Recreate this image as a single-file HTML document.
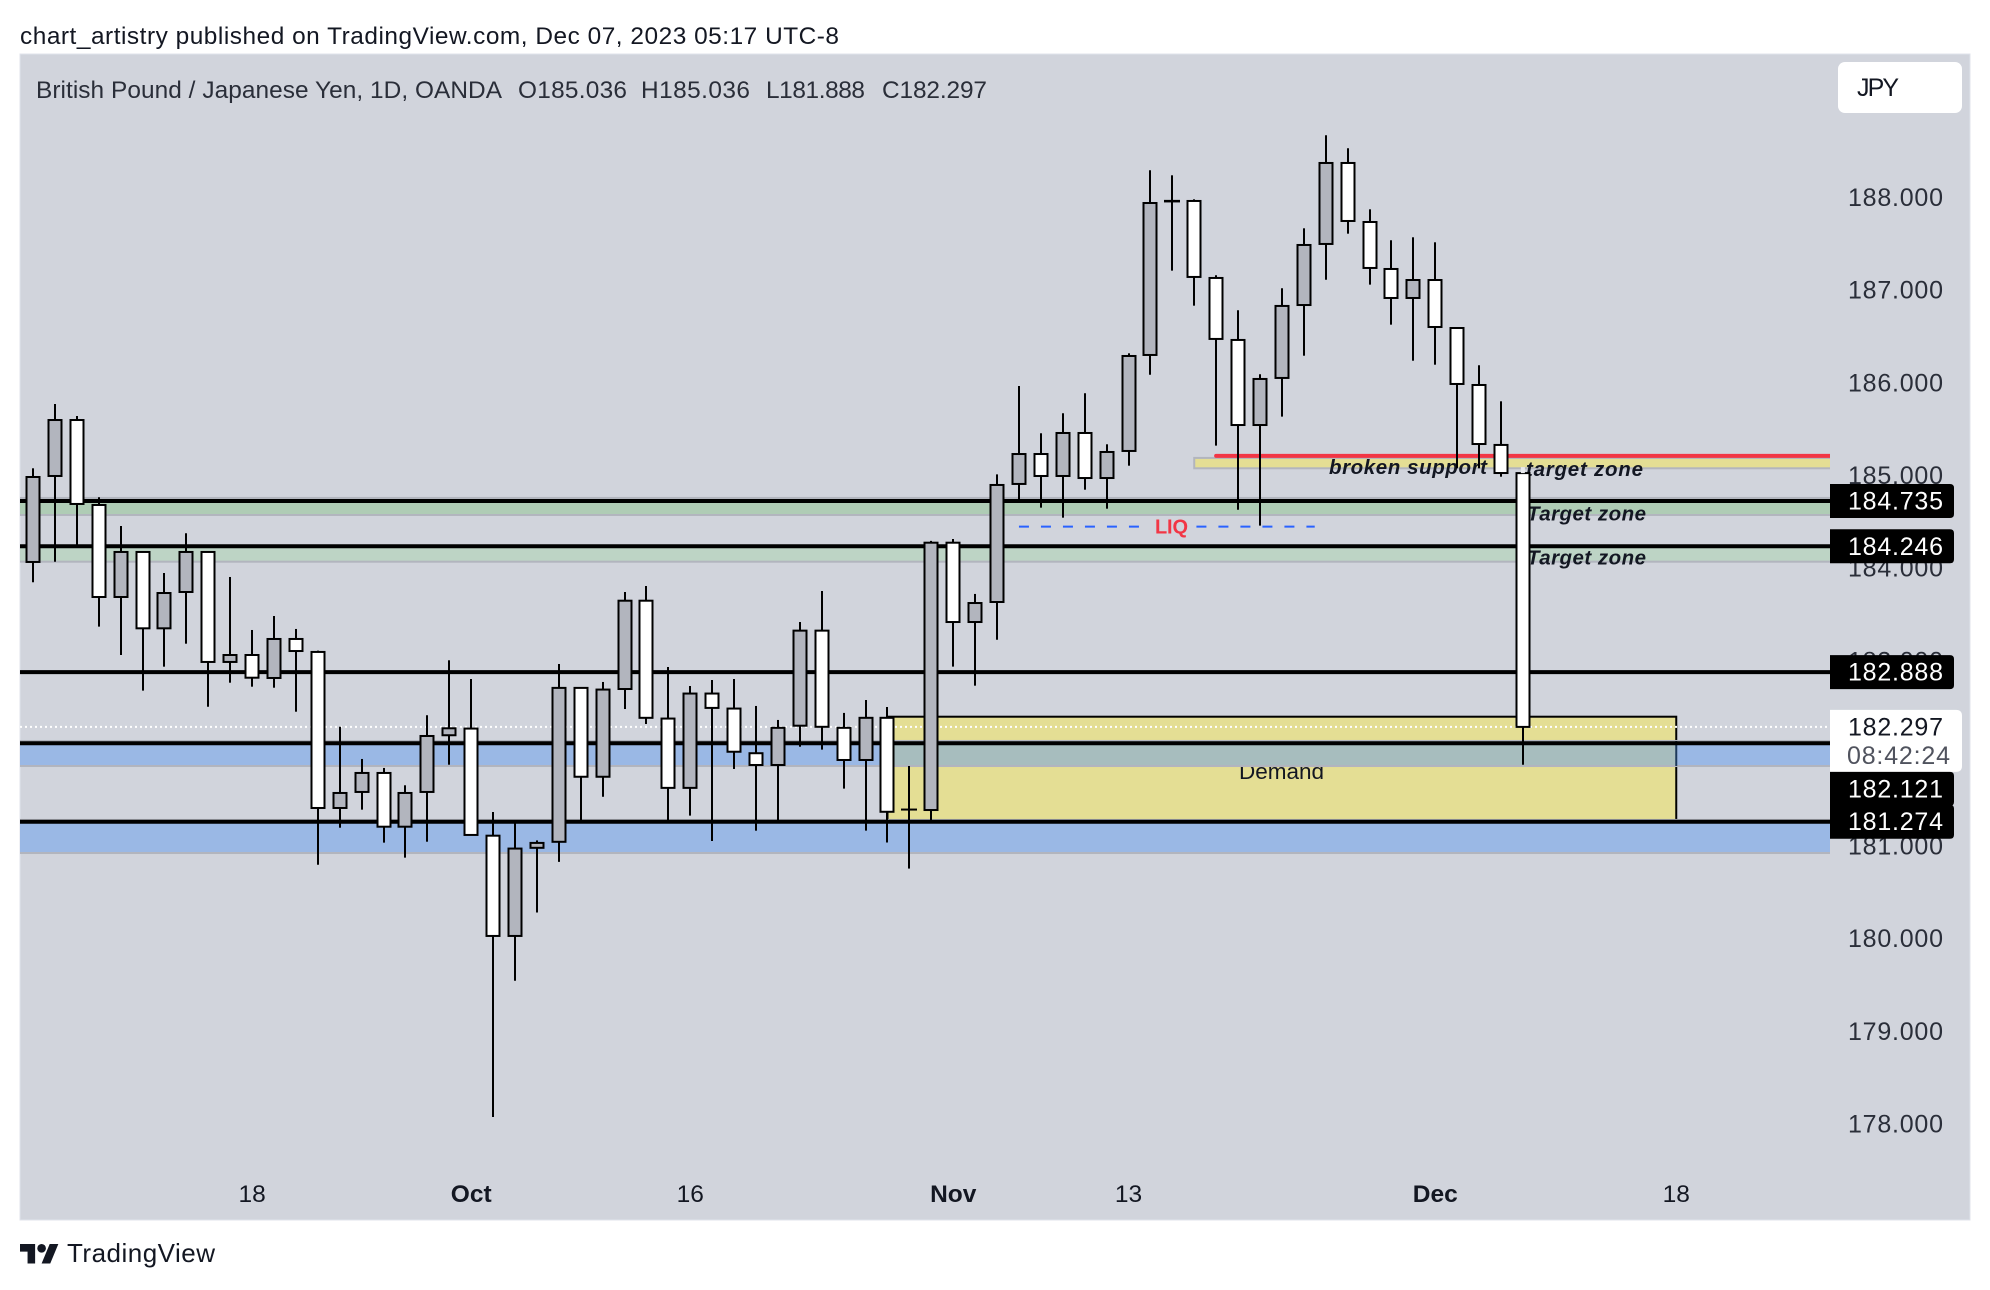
<!DOCTYPE html>
<html lang="en">
<head>
<meta charset="utf-8">
<title>GBP/JPY chart</title>
<style>
html,body{margin:0;padding:0;background:#fff;width:1990px;height:1290px;overflow:hidden}
svg{display:block}
text{font-family:"Liberation Sans",sans-serif}
</style>
</head>
<body>
<svg id="chart" width="1990" height="1290" viewBox="0 0 1990 1290" xmlns="http://www.w3.org/2000/svg">
  <defs>
    <clipPath id="plot-clip"><rect x="20" y="54" width="1810" height="1166"/></clipPath>
  </defs>
  <text x="20" y="44" font-size="24.4" fill="#131722" textLength="819" lengthAdjust="spacing">chart_artistry published on TradingView.com, Dec 07, 2023 05:17 UTC-8</text>
  <rect x="20" y="54" width="1950" height="1166" fill="#d1d4dc" stroke="#e0e3eb" stroke-width="1"/>
  <g id="plot" clip-path="url(#plot-clip)"></g>
  <g id="axis"></g>
  <g id="time"></g>
  <g font-size="24.4" fill="#2a2e39">
    <text x="36" y="98" textLength="466" lengthAdjust="spacing">British Pound / Japanese Yen, 1D, OANDA</text>
    <text x="518" y="98" textLength="109" lengthAdjust="spacing">O185.036</text>
    <text x="641" y="98" textLength="109" lengthAdjust="spacing">H185.036</text>
    <text x="766" y="98" textLength="99" lengthAdjust="spacing">L181.888</text>
    <text x="882" y="98" textLength="105" lengthAdjust="spacing">C182.297</text>
  </g>
  <g>
    <rect x="1838" y="62" width="124" height="51" rx="7" fill="#ffffff"/>
    <text x="1857" y="96" font-size="25" fill="#131722" textLength="42" lengthAdjust="spacing">JPY</text>
  </g>
  <g>
    <g transform="translate(20 1239.7) scale(1.08)" fill="#131722">
      <path d="M14 22H7V11H0V4h14v18zM28 22h-8l7.5-18h8L28 22z"/>
      <circle cx="20" cy="8" r="4"/>
    </g>
    <text x="67" y="1262" font-size="26" fill="#131722" textLength="148" lengthAdjust="spacing">TradingView</text>
  </g>
</svg>
<script>
// ---- chart data ----
const opens = [184.077,185.005,185.609,184.692,183.699,184.185,183.361,183.753,184.185,182.998,183.073,182.825,183.246,183.106,181.422,181.595,181.800,181.220,181.595,182.207,182.279,181.123,180.041,180.992,181.057,182.718,181.759,182.706,183.659,182.387,181.639,182.657,182.495,182.013,181.886,182.310,183.336,182.287,181.940,182.395,181.405,181.400,184.285,183.429,183.645,184.919,185.242,185.005,185.469,184.983,185.275,186.311,187.968,187.973,187.142,186.473,185.555,186.063,186.850,187.509,188.383,187.746,187.239,186.926,187.120,186.602,185.987,185.340,185.036];
const highs = [185.088,185.782,185.653,184.775,184.465,184.185,183.958,184.387,184.185,183.915,183.343,183.494,183.354,183.120,182.299,181.951,181.854,181.667,182.423,183.016,182.814,181.379,181.266,181.072,182.976,182.718,182.782,183.753,183.818,182.944,182.739,182.803,182.814,182.523,182.372,183.429,183.764,182.448,182.588,182.512,181.875,184.304,184.325,183.732,185.023,185.976,185.466,185.682,185.898,185.347,186.329,188.304,188.250,187.991,187.171,186.793,186.103,187.031,187.678,188.682,188.542,187.883,187.549,187.581,187.527,186.602,186.200,185.811,185.036];
const lows = [183.858,184.080,184.260,183.379,183.073,182.688,182.947,183.195,182.515,182.774,182.731,182.720,182.461,180.810,181.209,181.404,181.048,180.886,181.058,181.889,181.131,178.087,179.558,180.294,180.841,181.273,181.543,182.490,182.329,181.273,181.339,181.066,181.843,181.177,181.273,182.083,182.052,181.631,181.177,181.050,180.768,181.285,182.947,182.742,183.238,184.746,184.663,184.555,184.857,184.652,185.116,186.098,187.221,186.843,185.332,184.641,184.469,185.645,186.303,187.123,187.620,187.070,186.638,186.249,186.206,185.088,185.088,184.997,181.888];
const closes = [184.994,185.609,184.703,183.699,184.185,183.361,183.742,184.185,182.998,183.073,182.828,183.246,183.116,181.422,181.584,181.800,181.220,181.584,182.199,182.282,181.131,180.041,180.984,181.045,182.718,181.759,182.700,183.659,182.395,181.639,182.657,182.502,182.029,181.886,182.287,183.336,182.298,181.940,182.395,181.381,181.405,184.285,183.429,183.634,184.908,185.242,185.005,185.469,184.983,185.264,186.300,187.951,187.974,187.153,186.484,185.555,186.052,186.840,187.498,188.383,187.757,187.250,186.926,187.120,186.613,185.998,185.350,185.037,182.297];
const priceTicks = [188,187,186,185,184,183,182,181,180,179,178];
const timeTickBars = [10,20,30,42,50,64,75];
const timeTickLabels = ["18","Oct","16","Nov","13","Dec","18"];
const timeTickBold = [false,true,false,true,false,true,false];
const levelPrices = [184.735,184.246,182.888,182.121,181.274];
const lastPrice = 182.297;
const countdown = "08:42:24";
const greenZoneTops = [184.768,184.246];
const greenZoneBottoms = [184.584,184.080];
const greenZoneFills = ["#afccb5","#bdd4c5"];
const blueZoneTops = [182.145,181.293];
const blueZoneBottoms = [181.875,180.936];
const demandBars = [39,75];
const demandPrices = [182.407,181.274];
const supportBar = 53;
const supportPrices = [185.200,185.088];
const brokenLine = {bar:54, price:185.222};
const liqPrice = 184.458;
const liqBars = [45,50.5,53.1,58.5];

// ---- axis functions ----
function xScale(i){ return 33 + 21.91 * i; }
function yScale(p){ return 501 + (184.735 - p) * 92.66; }
const PLOT_R = 1830;
const NS = 'http://www.w3.org/2000/svg';
const plot = document.getElementById('plot');
const axis = document.getElementById('axis');
const time = document.getElementById('time');
function mk(parent, tag, attrs, text){
  const el = document.createElementNS(NS, tag);
  for (const k in attrs) el.setAttribute(k, attrs[k]);
  if (text !== undefined) el.textContent = text;
  parent.appendChild(el);
  return el;
}
function roundRight(x, y, w, h, r){
  return 'M'+x+' '+y+'H'+(x+w-r)+'Q'+(x+w)+' '+y+' '+(x+w)+' '+(y+r)+'V'+(y+h-r)+'Q'+(x+w)+' '+(y+h)+' '+(x+w-r)+' '+(y+h)+'H'+x+'Z';
}

// demand box
{
  const dx0 = xScale(demandBars[0]), dx1 = xScale(demandBars[1]);
  const dy0 = yScale(demandPrices[0]), dy1 = yScale(demandPrices[1]);
  const box = mk(plot, 'rect', {x:dx0, y:dy0, width:dx1-dx0, height:dy1-dy0, fill:'#e4de94', stroke:'#000', 'stroke-width':2});
  
  
  const dt = mk(plot, 'text', {x:1239, y:779, 'font-size':22.5, fill:'#131722', textLength:85, lengthAdjust:'spacing'}, 'Demand');
  
  
}

// green zones
greenZoneTops.forEach(function(top, i){
  const y0 = yScale(top), y1 = yScale(greenZoneBottoms[i]);
  const r = mk(plot, 'rect', {x:0, y:y0, width:PLOT_R+10, height:y1-y0, fill:greenZoneFills[i], stroke:'#b2b5be', 'stroke-width':2});
  
  
});

// blue zones, with the teal overlap where they cross the demand box
blueZoneTops.forEach(function(top, i){
  const y0 = yScale(top), y1 = yScale(blueZoneBottoms[i]);
  const r = mk(plot, 'rect', {x:0, y:y0, width:PLOT_R+10, height:y1-y0, fill:'#9ab8e5', stroke:'#b2b5be', 'stroke-width':2});
  
  
  if (top < demandPrices[0] && blueZoneBottoms[i] > demandPrices[1]) {
    const dx0 = xScale(demandBars[0]), dx1 = xScale(demandBars[1]);
    const t = mk(plot, 'rect', {x:dx0, y:y0, width:dx1-dx0, height:y1-y0, fill:'#a7bdbe', stroke:'#b2b5be', 'stroke-width':2});
    
    
    const e = mk(plot, 'line', {x1:dx1, x2:dx1, y1:y0, y2:y1, stroke:'#1d3a5c', 'stroke-width':2});
    
    
  }
});

// thin broken-support zone
{
  const sx = xScale(supportBar);
  const sy0 = yScale(supportPrices[0]), sy1 = yScale(supportPrices[1]);
  const r = mk(plot, 'rect', {x:sx, y:sy0, width:PLOT_R+10-sx, height:sy1-sy0, fill:'#e4de94', stroke:'#b2b5be', 'stroke-width':2});
  
  
  const l = mk(plot, 'line', {x1:xScale(brokenLine.bar), x2:PLOT_R+10, y1:yScale(brokenLine.price), y2:yScale(brokenLine.price), stroke:'#f23645', 'stroke-width':4, 'stroke-linecap':'round'});
  
  
}

// horizontal levels
levelPrices.forEach(function(p){
  const l = mk(plot, 'line', {x1:20, x2:PLOT_R, y1:yScale(p), y2:yScale(p), stroke:'#000', 'stroke-width':4});
  
  
});

// last price dotted line
{
  const l = mk(plot, 'line', {x1:20, x2:PLOT_R, y1:yScale(lastPrice), y2:yScale(lastPrice), stroke:'#ffffff', 'stroke-width':2, 'stroke-dasharray':'2 3'});
  
  
}

// LIQ dashed line
[[liqBars[0],liqBars[1]],[liqBars[2],liqBars[3]]].forEach(function(seg){
  const l = mk(plot, 'line', {x1:xScale(seg[0]), x2:xScale(seg[1]), y1:yScale(liqPrice), y2:yScale(liqPrice), stroke:'#2962ff', 'stroke-width':2, 'stroke-dasharray':'10 12'});
  
  
});
{
  const t = mk(plot, 'text', {x:1155, y:533.5, 'font-size':20, 'font-weight':'bold', fill:'#f23645', textLength:33, lengthAdjust:'spacing'}, 'LIQ');
  
  
}

// annotations
{
  const a1 = mk(plot, 'text', {x:1329, y:474, 'font-size':20.5, 'font-weight':'bold', 'font-style':'italic', fill:'#131722', textLength:158, lengthAdjust:'spacing'}, 'broken support');
  
  
  const a2 = mk(plot, 'text', {x:1526, y:476, 'font-size':20.5, 'font-weight':'bold', 'font-style':'italic', fill:'#131722', textLength:117, lengthAdjust:'spacing'}, 'target zone');
  
  
  const a3 = mk(plot, 'text', {x:1527, y:520.5, 'font-size':20.5, 'font-weight':'bold', 'font-style':'italic', fill:'#131722', textLength:119, lengthAdjust:'spacing'}, 'Target zone');
  
  
  const a4 = mk(plot, 'text', {x:1527, y:564.5, 'font-size':20.5, 'font-weight':'bold', 'font-style':'italic', fill:'#131722', textLength:119, lengthAdjust:'spacing'}, 'Target zone');
  
  
}

// candles
opens.forEach(function(o, i){
  const c = closes[i];
  const X = Math.round(xScale(i));
  const top = yScale(Math.max(o, c));
  const bot = yScale(Math.min(o, c));
  const wick = mk(plot, 'line', {x1:X, x2:X, y1:yScale(highs[i]), y2:yScale(lows[i]), stroke:'#000', 'stroke-width':2});
  
  
  if (bot - top < 1) {
    const dash = mk(plot, 'line', {x1:X-8, x2:X+8, y1:(top+bot)/2, y2:(top+bot)/2, stroke:'#000', 'stroke-width':2+(bot-top)});
    
    
  } else {
    const body = mk(plot, 'rect', {x:X-6.5, y:top, width:13, height:bot-top, fill: c > o ? '#b2b5be' : '#ffffff', stroke:'#000', 'stroke-width':2});
    
    
  }
});

// small highlight above the last candle
{
  const h = mk(plot, 'rect', {x:xScale(68)-2, y:yScale(highs[68])-6, width:4, height:6, fill:'#e9eaee'});
  
  
}

// price axis ticks
priceTicks.forEach(function(p){
  const t = mk(axis, 'text', {x:1848, y:yScale(p)+7.5, 'font-size':25, fill:'#2a2e39', textLength:95, lengthAdjust:'spacing'}, p.toFixed(3));
  
  
});

// last price box
const lastY = yScale(lastPrice);
const lastBoxTop = lastY - 17;
const lastBoxBottom = lastY + 45;
{
  const b = mk(axis, 'path', {d:roundRight(1830, lastBoxTop, 132, lastBoxBottom-lastBoxTop, 6), fill:'#ffffff'});
  
  
  const t = mk(axis, 'text', {x:1848, y:lastY+8.5, 'font-size':25, fill:'#131722', textLength:95, lengthAdjust:'spacing'}, lastPrice.toFixed(3));
  
  
  const cd = mk(axis, 'text', {x:1847, y:lastY+37, 'font-size':25, fill:'#50535e', textLength:103, lengthAdjust:'spacing'}, countdown);
  
  
}

// level price labels (a label inside the last-price box is pushed just below it)
levelPrices.forEach(function(p){
  let cy = yScale(p);
  if (cy > lastBoxTop && cy < lastBoxBottom) cy = lastBoxBottom + 17;
  const b = mk(axis, 'path', {d:roundRight(1830, cy-17, 124, 34, 4), fill:'#000000'});
  
  
  const t = mk(axis, 'text', {x:1848, y:cy+8.5, 'font-size':25, fill:'#ffffff', textLength:95, lengthAdjust:'spacing'}, p.toFixed(3));
  
  
});

// time axis
timeTickBars.forEach(function(bar, i){
  const attrs = {x:xScale(bar), y:1202, 'font-size':24.5, fill:'#131722', 'text-anchor':'middle'};
  if (timeTickBold[i]) attrs['font-weight'] = 'bold';
  const t = mk(time, 'text', attrs, timeTickLabels[i]);
  
  
});
</script>
</body>
</html>
